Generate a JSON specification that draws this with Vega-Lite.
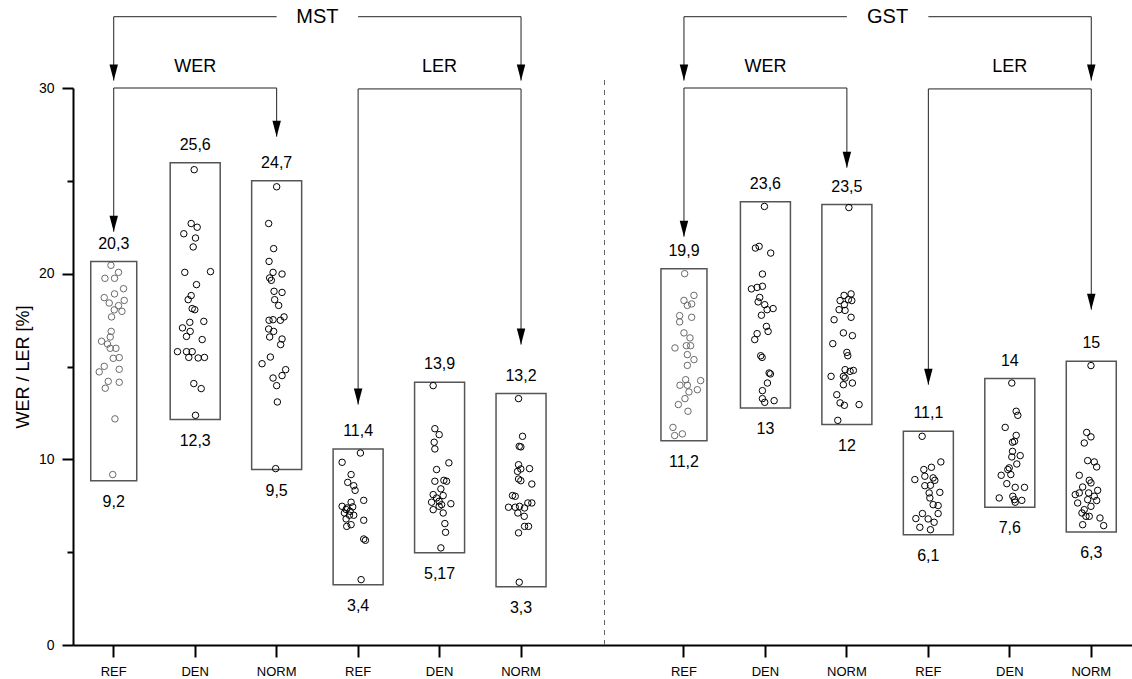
{
  "$schema": "https://vega.github.io/schema/vega-lite/v6.json",
  "width": 1059,
  "height": 557,
  "autosize": {"type": "none"},
  "padding": {"left": 73, "top": 88, "right": 0, "bottom": 34},
  "config": {"view": {"stroke": null}, "font": "Liberation Sans"},
  "datasets": {
    "pts": [
      {"col":"MST|WER|REF","v":20.45,"j":-2.8},{"col":"MST|WER|REF","v":20.07,"j":4.8},{"col":"MST|WER|REF","v":19.75,"j":-8.8},{"col":"MST|WER|REF","v":19.75,"j":0.8},{"col":"MST|WER|REF","v":19.19,"j":9.8},{"col":"MST|WER|REF","v":18.91,"j":0.8},{"col":"MST|WER|REF","v":18.71,"j":-9.5},{"col":"MST|WER|REF","v":18.56,"j":10.5},{"col":"MST|WER|REF","v":18.42,"j":-4.5},{"col":"MST|WER|REF","v":18.28,"j":4.8},{"col":"MST|WER|REF","v":18.05,"j":0.5},{"col":"MST|WER|REF","v":17.97,"j":8.2},{"col":"MST|WER|REF","v":17.67,"j":-2.2},{"col":"MST|WER|REF","v":16.89,"j":-2.5},{"col":"MST|WER|REF","v":16.59,"j":-3.5},{"col":"MST|WER|REF","v":16.36,"j":-12.2},{"col":"MST|WER|REF","v":16.21,"j":-6.2},{"col":"MST|WER|REF","v":15.98,"j":-3.5},{"col":"MST|WER|REF","v":15.98,"j":2.2},{"col":"MST|WER|REF","v":15.48,"j":5.5},{"col":"MST|WER|REF","v":15.44,"j":-0.5},{"col":"MST|WER|REF","v":15.01,"j":-9.5},{"col":"MST|WER|REF","v":14.85,"j":5.5},{"col":"MST|WER|REF","v":14.71,"j":-14.5},{"col":"MST|WER|REF","v":14.2,"j":-5.5},{"col":"MST|WER|REF","v":14.15,"j":5.5},{"col":"MST|WER|REF","v":13.83,"j":-8.5},{"col":"MST|WER|REF","v":12.18,"j":1.2},{"col":"MST|WER|REF","v":9.18,"j":-1},
      {"col":"MST|WER|DEN","v":25.6,"j":-1},{"col":"MST|WER|DEN","v":22.7,"j":-4},{"col":"MST|WER|DEN","v":22.5,"j":2},{"col":"MST|WER|DEN","v":22.15,"j":-11.4},{"col":"MST|WER|DEN","v":21.92,"j":0.3},{"col":"MST|WER|DEN","v":21.44,"j":-2},{"col":"MST|WER|DEN","v":20.07,"j":-10.4},{"col":"MST|WER|DEN","v":20.11,"j":15.3},{"col":"MST|WER|DEN","v":19.41,"j":1.3},{"col":"MST|WER|DEN","v":18.82,"j":-4},{"col":"MST|WER|DEN","v":18.6,"j":-7},{"col":"MST|WER|DEN","v":18.12,"j":-3},{"col":"MST|WER|DEN","v":18.06,"j":-0.4},{"col":"MST|WER|DEN","v":17.43,"j":8.6},{"col":"MST|WER|DEN","v":17.38,"j":-5.4},{"col":"MST|WER|DEN","v":17.08,"j":-12.7},{"col":"MST|WER|DEN","v":16.89,"j":-5},{"col":"MST|WER|DEN","v":16.62,"j":-8.7},{"col":"MST|WER|DEN","v":16.45,"j":7},{"col":"MST|WER|DEN","v":15.8,"j":-17.7},{"col":"MST|WER|DEN","v":15.8,"j":-8.7},{"col":"MST|WER|DEN","v":15.8,"j":-3},{"col":"MST|WER|DEN","v":15.49,"j":-6.4},{"col":"MST|WER|DEN","v":15.46,"j":3},{"col":"MST|WER|DEN","v":15.49,"j":9.3},{"col":"MST|WER|DEN","v":14.08,"j":-1.4},{"col":"MST|WER|DEN","v":13.81,"j":6},{"col":"MST|WER|DEN","v":12.37,"j":0.3},
      {"col":"MST|WER|NORM","v":24.68,"j":0},{"col":"MST|WER|NORM","v":22.7,"j":-8},{"col":"MST|WER|NORM","v":21.35,"j":-3},{"col":"MST|WER|NORM","v":20.66,"j":-7.6},{"col":"MST|WER|NORM","v":20.07,"j":-3.6},{"col":"MST|WER|NORM","v":19.98,"j":5.4},{"col":"MST|WER|NORM","v":19.77,"j":-7},{"col":"MST|WER|NORM","v":19.64,"j":-5.3},{"col":"MST|WER|NORM","v":19.05,"j":-2.6},{"col":"MST|WER|NORM","v":18.99,"j":5.4},{"col":"MST|WER|NORM","v":18.6,"j":-2},{"col":"MST|WER|NORM","v":18.29,"j":2},{"col":"MST|WER|NORM","v":17.67,"j":7.4},{"col":"MST|WER|NORM","v":17.49,"j":-7.6},{"col":"MST|WER|NORM","v":17.52,"j":-3.6},{"col":"MST|WER|NORM","v":17.49,"j":3.7},{"col":"MST|WER|NORM","v":17.02,"j":-8},{"col":"MST|WER|NORM","v":16.89,"j":-3},{"col":"MST|WER|NORM","v":16.59,"j":-7},{"col":"MST|WER|NORM","v":16.48,"j":5.4},{"col":"MST|WER|NORM","v":16.18,"j":4},{"col":"MST|WER|NORM","v":15.51,"j":-6.3},{"col":"MST|WER|NORM","v":15.15,"j":-14.6},{"col":"MST|WER|NORM","v":14.83,"j":9},{"col":"MST|WER|NORM","v":14.51,"j":5.4},{"col":"MST|WER|NORM","v":14.38,"j":-3.6},{"col":"MST|WER|NORM","v":13.97,"j":0},{"col":"MST|WER|NORM","v":13.09,"j":0.7},{"col":"MST|WER|NORM","v":9.5,"j":-1},
      {"col":"MST|LER|REF","v":10.34,"j":2.3},{"col":"MST|LER|REF","v":9.84,"j":-16},{"col":"MST|LER|REF","v":9.18,"j":-7},{"col":"MST|LER|REF","v":8.76,"j":-10.4},{"col":"MST|LER|REF","v":8.58,"j":-4.4},{"col":"MST|LER|REF","v":8.33,"j":-3},{"col":"MST|LER|REF","v":7.79,"j":5.6},{"col":"MST|LER|REF","v":7.47,"j":-16},{"col":"MST|LER|REF","v":7.69,"j":-7},{"col":"MST|LER|REF","v":7.38,"j":-11},{"col":"MST|LER|REF","v":7.44,"j":-5.4},{"col":"MST|LER|REF","v":7.3,"j":-12},{"col":"MST|LER|REF","v":7.2,"j":-8},{"col":"MST|LER|REF","v":7.11,"j":-13.7},{"col":"MST|LER|REF","v":6.99,"j":-8.7},{"col":"MST|LER|REF","v":6.99,"j":-4.4},{"col":"MST|LER|REF","v":6.79,"j":-12},{"col":"MST|LER|REF","v":6.72,"j":5.6},{"col":"MST|LER|REF","v":6.48,"j":-7},{"col":"MST|LER|REF","v":6.39,"j":-11.4},{"col":"MST|LER|REF","v":5.71,"j":5.6},{"col":"MST|LER|REF","v":5.64,"j":7.3},{"col":"MST|LER|REF","v":3.52,"j":3},
      {"col":"MST|LER|DEN","v":13.97,"j":-6.4},{"col":"MST|LER|DEN","v":11.65,"j":-4.7},{"col":"MST|LER|DEN","v":11.33,"j":-0.4},{"col":"MST|LER|DEN","v":10.92,"j":-5.4},{"col":"MST|LER|DEN","v":10.56,"j":-4.7},{"col":"MST|LER|DEN","v":9.81,"j":9.3},{"col":"MST|LER|DEN","v":9.45,"j":-3},{"col":"MST|LER|DEN","v":8.82,"j":-4.7},{"col":"MST|LER|DEN","v":8.87,"j":4.3},{"col":"MST|LER|DEN","v":8.82,"j":7},{"col":"MST|LER|DEN","v":8.41,"j":1.3},{"col":"MST|LER|DEN","v":8.1,"j":-6.4},{"col":"MST|LER|DEN","v":8.05,"j":3.6},{"col":"MST|LER|DEN","v":7.92,"j":-3},{"col":"MST|LER|DEN","v":7.74,"j":-0.4},{"col":"MST|LER|DEN","v":7.69,"j":-8},{"col":"MST|LER|DEN","v":7.56,"j":2},{"col":"MST|LER|DEN","v":7.61,"j":11.3},{"col":"MST|LER|DEN","v":7.29,"j":-6.4},{"col":"MST|LER|DEN","v":7.47,"j":-0.4},{"col":"MST|LER|DEN","v":7.11,"j":3.6},{"col":"MST|LER|DEN","v":6.54,"j":5.3},{"col":"MST|LER|DEN","v":6.07,"j":6},{"col":"MST|LER|DEN","v":5.23,"j":1.3},
      {"col":"MST|LER|NORM","v":13.27,"j":-2.5},{"col":"MST|LER|NORM","v":11.24,"j":1.5},{"col":"MST|LER|NORM","v":10.7,"j":-1.8},{"col":"MST|LER|NORM","v":10.67,"j":-0.2},{"col":"MST|LER|NORM","v":9.71,"j":-2.5},{"col":"MST|LER|NORM","v":9.35,"j":-3.5},{"col":"MST|LER|NORM","v":9.48,"j":-0.2},{"col":"MST|LER|NORM","v":9.5,"j":8.5},{"col":"MST|LER|NORM","v":8.94,"j":-2.5},{"col":"MST|LER|NORM","v":8.85,"j":-0.2},{"col":"MST|LER|NORM","v":8.67,"j":10.8},{"col":"MST|LER|NORM","v":8.05,"j":-8.5},{"col":"MST|LER|NORM","v":8.01,"j":-5.8},{"col":"MST|LER|NORM","v":7.42,"j":-12.5},{"col":"MST|LER|NORM","v":7.42,"j":-5.8},{"col":"MST|LER|NORM","v":7.47,"j":-1.5},{"col":"MST|LER|NORM","v":7.65,"j":6.8},{"col":"MST|LER|NORM","v":7.65,"j":10.8},{"col":"MST|LER|NORM","v":7.38,"j":3.5},{"col":"MST|LER|NORM","v":7.11,"j":-3.2},{"col":"MST|LER|NORM","v":6.93,"j":3.2},{"col":"MST|LER|NORM","v":6.39,"j":3.5},{"col":"MST|LER|NORM","v":6.39,"j":7.5},{"col":"MST|LER|NORM","v":6.04,"j":-2.5},{"col":"MST|LER|NORM","v":3.38,"j":-1.8},
      {"col":"GST|WER|REF","v":20.0,"j":0.7},{"col":"GST|WER|REF","v":18.83,"j":10},{"col":"GST|WER|REF","v":18.56,"j":0},{"col":"GST|WER|REF","v":18.37,"j":7.7},{"col":"GST|WER|REF","v":18.29,"j":3.4},{"col":"GST|WER|REF","v":17.74,"j":-4.3},{"col":"GST|WER|REF","v":17.65,"j":7.7},{"col":"GST|WER|REF","v":17.4,"j":-4.3},{"col":"GST|WER|REF","v":16.81,"j":0},{"col":"GST|WER|REF","v":16.54,"j":6},{"col":"GST|WER|REF","v":16.0,"j":-9},{"col":"GST|WER|REF","v":16.12,"j":2.4},{"col":"GST|WER|REF","v":16.12,"j":6.7},{"col":"GST|WER|REF","v":15.64,"j":3.4},{"col":"GST|WER|REF","v":15.37,"j":10},{"col":"GST|WER|REF","v":15.06,"j":3.4},{"col":"GST|WER|REF","v":14.29,"j":1.7},{"col":"GST|WER|REF","v":13.99,"j":-4},{"col":"GST|WER|REF","v":13.99,"j":3.4},{"col":"GST|WER|REF","v":14.24,"j":16.7},{"col":"GST|WER|REF","v":13.75,"j":13.4},{"col":"GST|WER|REF","v":13.63,"j":5},{"col":"GST|WER|REF","v":13.27,"j":1},{"col":"GST|WER|REF","v":12.95,"j":-5.6},{"col":"GST|WER|REF","v":12.59,"j":4},{"col":"GST|WER|REF","v":11.72,"j":-11},{"col":"GST|WER|REF","v":11.28,"j":-9.3},{"col":"GST|WER|REF","v":11.37,"j":-1.6},
      {"col":"GST|WER|DEN","v":23.62,"j":-1},{"col":"GST|WER|DEN","v":21.38,"j":-10},{"col":"GST|WER|DEN","v":21.47,"j":-6.3},{"col":"GST|WER|DEN","v":21.11,"j":5.3},{"col":"GST|WER|DEN","v":19.98,"j":-3},{"col":"GST|WER|DEN","v":19.18,"j":-14},{"col":"GST|WER|DEN","v":19.26,"j":-8.3},{"col":"GST|WER|DEN","v":19.32,"j":-3},{"col":"GST|WER|DEN","v":18.72,"j":-5.7},{"col":"GST|WER|DEN","v":18.48,"j":-7.3},{"col":"GST|WER|DEN","v":18.33,"j":-0.7},{"col":"GST|WER|DEN","v":18.12,"j":7.7},{"col":"GST|WER|DEN","v":18.06,"j":1.7},{"col":"GST|WER|DEN","v":17.76,"j":-4},{"col":"GST|WER|DEN","v":17.16,"j":1},{"col":"GST|WER|DEN","v":16.89,"j":2.7},{"col":"GST|WER|DEN","v":16.77,"j":-8.3},{"col":"GST|WER|DEN","v":16.45,"j":-10.7},{"col":"GST|WER|DEN","v":15.58,"j":-4.7},{"col":"GST|WER|DEN","v":15.49,"j":-3.3},{"col":"GST|WER|DEN","v":14.65,"j":3.7},{"col":"GST|WER|DEN","v":14.6,"j":5},{"col":"GST|WER|DEN","v":14.11,"j":2},{"col":"GST|WER|DEN","v":13.7,"j":-3},{"col":"GST|WER|DEN","v":13.27,"j":-3},{"col":"GST|WER|DEN","v":13.07,"j":-0.7},{"col":"GST|WER|DEN","v":13.16,"j":8.7},
      {"col":"GST|WER|NORM","v":23.56,"j":2},{"col":"GST|WER|NORM","v":18.83,"j":-2.8},{"col":"GST|WER|NORM","v":18.91,"j":4.2},{"col":"GST|WER|NORM","v":18.55,"j":-6.8},{"col":"GST|WER|NORM","v":18.6,"j":1.5},{"col":"GST|WER|NORM","v":18.55,"j":4.9},{"col":"GST|WER|NORM","v":18.33,"j":-2.5},{"col":"GST|WER|NORM","v":18.06,"j":-7.8},{"col":"GST|WER|NORM","v":18.02,"j":-1.8},{"col":"GST|WER|NORM","v":17.65,"j":4.2},{"col":"GST|WER|NORM","v":17.52,"j":-12.8},{"col":"GST|WER|NORM","v":16.81,"j":-3.5},{"col":"GST|WER|NORM","v":16.66,"j":5.5},{"col":"GST|WER|NORM","v":16.23,"j":-14.1},{"col":"GST|WER|NORM","v":15.76,"j":0},{"col":"GST|WER|NORM","v":15.58,"j":0.9},{"col":"GST|WER|NORM","v":14.83,"j":-1.8},{"col":"GST|WER|NORM","v":14.79,"j":6.5},{"col":"GST|WER|NORM","v":14.74,"j":3.2},{"col":"GST|WER|NORM","v":14.47,"j":-3.5},{"col":"GST|WER|NORM","v":14.47,"j":-15.8},{"col":"GST|WER|NORM","v":14.38,"j":-1.8},{"col":"GST|WER|NORM","v":14.11,"j":5.5},{"col":"GST|WER|NORM","v":14.02,"j":-3.5},{"col":"GST|WER|NORM","v":13.48,"j":-10.1},{"col":"GST|WER|NORM","v":13.04,"j":-6.8},{"col":"GST|WER|NORM","v":12.91,"j":-2.5},{"col":"GST|WER|NORM","v":12.95,"j":12.2},{"col":"GST|WER|NORM","v":12.1,"j":-9.1},
      {"col":"GST|LER|REF","v":11.24,"j":-6.2},{"col":"GST|LER|REF","v":9.86,"j":12.5},{"col":"GST|LER|REF","v":9.45,"j":-4.5},{"col":"GST|LER|REF","v":9.57,"j":3.1},{"col":"GST|LER|REF","v":8.91,"j":-13.5},{"col":"GST|LER|REF","v":9.09,"j":-3.5},{"col":"GST|LER|REF","v":9.0,"j":4.8},{"col":"GST|LER|REF","v":8.87,"j":6.5},{"col":"GST|LER|REF","v":8.58,"j":-3.5},{"col":"GST|LER|REF","v":8.6,"j":2.1},{"col":"GST|LER|REF","v":8.22,"j":11.5},{"col":"GST|LER|REF","v":8.19,"j":0.8},{"col":"GST|LER|REF","v":7.92,"j":1.5},{"col":"GST|LER|REF","v":7.56,"j":4.8},{"col":"GST|LER|REF","v":7.51,"j":9.8},{"col":"GST|LER|REF","v":7.08,"j":9.8},{"col":"GST|LER|REF","v":7.08,"j":-5.9},{"col":"GST|LER|REF","v":6.81,"j":-12.5},{"col":"GST|LER|REF","v":6.79,"j":-0.2},{"col":"GST|LER|REF","v":6.61,"j":5.8},{"col":"GST|LER|REF","v":6.34,"j":-8.5},{"col":"GST|LER|REF","v":6.21,"j":2.1},
      {"col":"GST|LER|DEN","v":14.11,"j":2},{"col":"GST|LER|DEN","v":12.59,"j":6.4},{"col":"GST|LER|DEN","v":12.37,"j":8},{"col":"GST|LER|DEN","v":11.72,"j":-4.6},{"col":"GST|LER|DEN","v":11.29,"j":6.4},{"col":"GST|LER|DEN","v":10.92,"j":2.7},{"col":"GST|LER|DEN","v":10.97,"j":4.7},{"col":"GST|LER|DEN","v":10.43,"j":2.7},{"col":"GST|LER|DEN","v":10.2,"j":10.4},{"col":"GST|LER|DEN","v":10.13,"j":2},{"col":"GST|LER|DEN","v":9.75,"j":7},{"col":"GST|LER|DEN","v":9.54,"j":-0.6},{"col":"GST|LER|DEN","v":9.45,"j":-2},{"col":"GST|LER|DEN","v":9.14,"j":-8.6},{"col":"GST|LER|DEN","v":9.18,"j":1},{"col":"GST|LER|DEN","v":8.69,"j":-3},{"col":"GST|LER|DEN","v":8.49,"j":5.4},{"col":"GST|LER|DEN","v":8.49,"j":14.7},{"col":"GST|LER|DEN","v":7.92,"j":-10.6},{"col":"GST|LER|DEN","v":8.01,"j":3},{"col":"GST|LER|DEN","v":7.83,"j":4.7},{"col":"GST|LER|DEN","v":7.79,"j":12},{"col":"GST|LER|DEN","v":7.69,"j":5.4},
      {"col":"GST|LER|NORM","v":15.05,"j":-0.3},{"col":"GST|LER|NORM","v":11.45,"j":-4.6},{"col":"GST|LER|NORM","v":11.21,"j":-0.3},{"col":"GST|LER|NORM","v":10.88,"j":-7},{"col":"GST|LER|NORM","v":9.93,"j":-3.6},{"col":"GST|LER|NORM","v":9.86,"j":3},{"col":"GST|LER|NORM","v":9.59,"j":5.4},{"col":"GST|LER|NORM","v":9.14,"j":-12},{"col":"GST|LER|NORM","v":8.87,"j":-2},{"col":"GST|LER|NORM","v":8.73,"j":-0.3},{"col":"GST|LER|NORM","v":8.51,"j":-8.6},{"col":"GST|LER|NORM","v":8.33,"j":6.4},{"col":"GST|LER|NORM","v":8.19,"j":-2.6},{"col":"GST|LER|NORM","v":8.1,"j":-16},{"col":"GST|LER|NORM","v":8.19,"j":-12},{"col":"GST|LER|NORM","v":8.01,"j":3},{"col":"GST|LER|NORM","v":7.83,"j":-3.6},{"col":"GST|LER|NORM","v":7.65,"j":-13.6},{"col":"GST|LER|NORM","v":7.47,"j":-0.3},{"col":"GST|LER|NORM","v":7.78,"j":5.4},{"col":"GST|LER|NORM","v":7.29,"j":-7},{"col":"GST|LER|NORM","v":7.11,"j":-9.3},{"col":"GST|LER|NORM","v":6.93,"j":-2},{"col":"GST|LER|NORM","v":6.93,"j":-5.3},{"col":"GST|LER|NORM","v":6.84,"j":8.7},{"col":"GST|LER|NORM","v":6.48,"j":-8.6},{"col":"GST|LER|NORM","v":6.43,"j":12.4}
    ],
    "boxes": [
      {"col":"MST|WER|REF","v":8.85,"v2":20.65},
      {"col":"MST|WER|DEN","v":12.14,"v2":25.98},
      {"col":"MST|WER|NORM","v":9.45,"v2":25.0},
      {"col":"MST|LER|REF","v":3.25,"v2":10.56},
      {"col":"MST|LER|DEN","v":4.97,"v2":14.15},
      {"col":"MST|LER|NORM","v":3.14,"v2":13.54},
      {"col":"GST|WER|REF","v":11.0,"v2":20.27},
      {"col":"GST|WER|DEN","v":12.77,"v2":23.87},
      {"col":"GST|WER|NORM","v":11.87,"v2":23.72},
      {"col":"GST|LER|REF","v":5.94,"v2":11.51},
      {"col":"GST|LER|DEN","v":7.42,"v2":14.35},
      {"col":"GST|LER|NORM","v":6.09,"v2":15.28}
    ],
    "labels": [
      {"col":"MST|WER|REF","v":20.65,"t":"20,3","pos":"top"},{"col":"MST|WER|REF","v":8.85,"t":"9,2","pos":"bottom"},
      {"col":"MST|WER|DEN","v":25.98,"t":"25,6","pos":"top"},{"col":"MST|WER|DEN","v":12.14,"t":"12,3","pos":"bottom"},
      {"col":"MST|WER|NORM","v":25.0,"t":"24,7","pos":"top"},{"col":"MST|WER|NORM","v":9.45,"t":"9,5","pos":"bottom"},
      {"col":"MST|LER|REF","v":10.56,"t":"11,4","pos":"top"},{"col":"MST|LER|REF","v":3.25,"t":"3,4","pos":"bottom"},
      {"col":"MST|LER|DEN","v":14.15,"t":"13,9","pos":"top"},{"col":"MST|LER|DEN","v":4.97,"t":"5,17","pos":"bottom"},
      {"col":"MST|LER|NORM","v":13.54,"t":"13,2","pos":"top"},{"col":"MST|LER|NORM","v":3.14,"t":"3,3","pos":"bottom"},
      {"col":"GST|WER|REF","v":20.27,"t":"19,9","pos":"top"},{"col":"GST|WER|REF","v":11.0,"t":"11,2","pos":"bottom"},
      {"col":"GST|WER|DEN","v":23.87,"t":"23,6","pos":"top"},{"col":"GST|WER|DEN","v":12.77,"t":"13","pos":"bottom"},
      {"col":"GST|WER|NORM","v":23.72,"t":"23,5","pos":"top"},{"col":"GST|WER|NORM","v":11.87,"t":"12","pos":"bottom"},
      {"col":"GST|LER|REF","v":11.51,"t":"11,1","pos":"top"},{"col":"GST|LER|REF","v":5.94,"t":"6,1","pos":"bottom"},
      {"col":"GST|LER|DEN","v":14.35,"t":"14","pos":"top"},{"col":"GST|LER|DEN","v":7.42,"t":"7,6","pos":"bottom"},
      {"col":"GST|LER|NORM","v":15.28,"t":"15","pos":"top"},{"col":"GST|LER|NORM","v":6.09,"t":"6,3","pos":"bottom"}
    ],
    "segs": [
      {"col":"MST|WER|REF","col2":"MST|WER|NORM","v":33.84,"v2":33.84},
      {"col":"MST|LER|REF","col2":"MST|LER|NORM","v":33.84,"v2":33.84},
      {"col":"MST|WER|REF","col2":"MST|WER|REF","v":33.84,"v2":30.4},
      {"col":"MST|LER|NORM","col2":"MST|LER|NORM","v":33.84,"v2":30.4},
      {"col":"MST|WER|REF","col2":"MST|WER|NORM","v":30.0,"v2":30.0},
      {"col":"MST|WER|REF","col2":"MST|WER|REF","v":30.0,"v2":22.26},
      {"col":"MST|WER|NORM","col2":"MST|WER|NORM","v":30.0,"v2":27.38},
      {"col":"MST|LER|REF","col2":"MST|LER|NORM","v":29.95,"v2":29.95},
      {"col":"MST|LER|REF","col2":"MST|LER|REF","v":29.95,"v2":12.95},
      {"col":"MST|LER|NORM","col2":"MST|LER|NORM","v":29.95,"v2":16.18},
      {"col":"GST|WER|REF","col2":"GST|WER|NORM","v":33.84,"v2":33.84},
      {"col":"GST|LER|REF","col2":"GST|LER|NORM","v":33.84,"v2":33.84},
      {"col":"GST|WER|REF","col2":"GST|WER|REF","v":33.84,"v2":30.4},
      {"col":"GST|LER|NORM","col2":"GST|LER|NORM","v":33.84,"v2":30.4},
      {"col":"GST|WER|REF","col2":"GST|WER|NORM","v":30.0,"v2":30.0},
      {"col":"GST|WER|REF","col2":"GST|WER|REF","v":30.0,"v2":21.99},
      {"col":"GST|WER|NORM","col2":"GST|WER|NORM","v":30.0,"v2":25.71},
      {"col":"GST|LER|REF","col2":"GST|LER|NORM","v":29.95,"v2":29.95},
      {"col":"GST|LER|REF","col2":"GST|LER|REF","v":29.95,"v2":14.02},
      {"col":"GST|LER|NORM","col2":"GST|LER|NORM","v":29.95,"v2":18.06}
    ],
    "arrows": [
      {"col":"MST|WER|REF","v":30.4},{"col":"MST|LER|NORM","v":30.4},
      {"col":"MST|WER|REF","v":22.26},{"col":"MST|WER|NORM","v":27.38},
      {"col":"MST|LER|REF","v":12.95},{"col":"MST|LER|NORM","v":16.18},
      {"col":"GST|WER|REF","v":30.4},{"col":"GST|LER|NORM","v":30.4},
      {"col":"GST|WER|REF","v":21.99},{"col":"GST|WER|NORM","v":25.71},
      {"col":"GST|LER|REF","v":14.02},{"col":"GST|LER|NORM","v":18.06}
    ],
    "heads": [
      {"col":"MST|WER|NORM","v":33.84,"t":"MST","lvl":1},
      {"col":"GST|WER|NORM","v":33.84,"t":"GST","lvl":1},
      {"col":"MST|WER|DEN","v":31.14,"t":"WER","lvl":2},
      {"col":"MST|LER|DEN","v":31.14,"t":"LER","lvl":2},
      {"col":"GST|WER|DEN","v":31.14,"t":"WER","lvl":2},
      {"col":"GST|LER|DEN","v":31.14,"t":"LER","lvl":2}
    ],
    "divider": [{"col":"gap","v":0,"v2":30.7}]
  },
  "encoding": {
    "x": {
      "field": "col", "type": "nominal",
      "scale": {"domain": ["MST|WER|REF","MST|WER|DEN","MST|WER|NORM","MST|LER|REF","MST|LER|DEN","MST|LER|NORM","gap","GST|WER|REF","GST|WER|DEN","GST|WER|NORM","GST|LER|REF","GST|LER|DEN","GST|LER|NORM"], "paddingInner": 0, "paddingOuter": 0},
      "axis": {
        "title": null, "bandPosition": 0.5, "labelAngle": 0,
        "labelExpr": "datum.value === 'gap' ? '' : split(datum.value, '|')[2]",
        "tickOpacity": {"condition": {"test": "datum.value === 'gap'", "value": 0}, "value": 1},
        "tickSize": 12, "tickWidth": 2, "tickColor": "#000",
        "domainColor": "#000", "domainWidth": 2,
        "labelFont": "Liberation Sans", "labelFontSize": 13, "labelColor": "#000", "labelPadding": 8
      }
    },
    "y": {
      "field": "v", "type": "quantitative",
      "scale": {"domain": [0, 30], "nice": false},
      "axis": {
        "title": "WER / LER [%]", "titleFont": "Liberation Sans", "titleFontSize": 18, "titleFontWeight": "normal", "titleColor": "#000", "titlePadding": 6,
        "values": [0, 5, 10, 15, 20, 25, 30],
        "labelExpr": "datum.value % 10 === 0 ? datum.label : ''",
        "tickSize": {"condition": {"test": "datum.value % 10 === 0", "value": 11}, "value": 6},
        "tickWidth": 2, "tickColor": "#000", "domainColor": "#000", "domainWidth": 2,
        "labelFont": "Liberation Sans", "labelFontSize": 14, "labelColor": "#000", "labelPadding": 8, "grid": false
      }
    }
  },
  "layer": [
    {"data": {"name": "divider"}, "mark": {"type": "rule", "stroke": "#666", "strokeWidth": 1, "strokeDash": [5, 5], "xOffset": 2}, "encoding": {"y2": {"field": "v2"}}},
    {"data": {"name": "boxes"}, "mark": {"type": "bar", "fill": "#fff", "fillOpacity": 0, "stroke": "#555", "strokeWidth": 1.5}, "encoding": {"y2": {"field": "v2"}, "size": {"condition": {"test": "indexof(datum.col, 'WER|REF') >= 0", "value": 46}, "value": 50}}},
    {"data": {"name": "pts"}, "mark": {"type": "point", "shape": "circle", "filled": false, "size": 42, "strokeWidth": 1}, "encoding": {
      "xOffset": {"field": "j", "type": "quantitative", "scale": {"domain": [-40.73, 40.73]}},
      "stroke": {"condition": {"test": "indexof(datum.col, 'WER|REF') >= 0", "value": "#6a6a6a"}, "value": "#000"},
      "opacity": {"value": 1}}},
    {"data": {"name": "labels"}, "transform": [{"filter": "datum.pos === 'top'"}], "mark": {"type": "text", "fontSize": 16, "font": "Liberation Sans", "color": "#000", "baseline": "middle", "dy": -18}, "encoding": {"text": {"field": "t"}}},
    {"data": {"name": "labels"}, "transform": [{"filter": "datum.pos === 'bottom'"}], "mark": {"type": "text", "fontSize": 16, "font": "Liberation Sans", "color": "#000", "baseline": "middle", "dy": 21}, "encoding": {"text": {"field": "t"}}},
    {"data": {"name": "segs"}, "mark": {"type": "rule", "stroke": "#222", "strokeWidth": 1}, "encoding": {"x2": {"field": "col2"}, "y2": {"field": "v2"}}},
    {"data": {"name": "arrows"}, "mark": {"type": "point", "shape": "M-0.53,-2L0.53,-2L0,0Z", "filled": true, "size": 256, "color": "#000", "opacity": 1, "strokeWidth": 0}, "encoding": {}},
    {"data": {"name": "heads"}, "transform": [{"filter": "datum.lvl === 1"}], "mark": {"type": "text", "fontSize": 20, "font": "Liberation Sans", "color": "#000", "baseline": "middle", "dx": 40.7}, "encoding": {"text": {"field": "t"}}},
    {"data": {"name": "heads"}, "transform": [{"filter": "datum.lvl === 2"}], "mark": {"type": "text", "fontSize": 18, "font": "Liberation Sans", "color": "#000", "baseline": "middle"}, "encoding": {"text": {"field": "t"}}}
  ]
}
